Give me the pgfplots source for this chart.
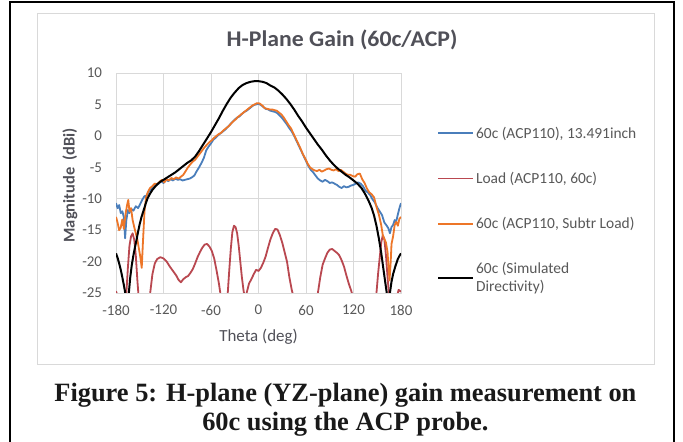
\documentclass[border=0pt]{standalone}
\usepackage{fontspec}
\setmainfont{Carlito}
\newfontfamily\capfont{Liberation Serif}
\usepackage{graphicx}
\usepackage{pgfplots}
\pgfplotsset{compat=1.18}
\definecolor{serblue}{RGB}{74,126,187}
\definecolor{serload}{RGB}{185,72,80}
\definecolor{serorange}{RGB}{237,118,40}
\definecolor{titlegray}{RGB}{80,80,88}
\definecolor{tickgray}{RGB}{89,89,89}
\definecolor{gridgray}{RGB}{217,217,217}

\pgfplotstableread{
x y
-180 -10.7
-178 -11.5
-176 -11.0
-174 -12.3
-172 -12.0
-170 -13.0
-168.5 -16.3
-167 -13.5
-165 -11.8
-163 -12.3
-161 -11.6
-158 -11.9
-155 -11.2
-152 -11.5
-150 -11.0
-147 -10.2
-144 -9.6
-141 -9.5
-138 -8.7
-135 -8.5
-132 -7.9
-129 -7.8
-126 -7.6
-123 -7.2
-120 -7.5
-117 -7.0
-114 -7.2
-111 -6.9
-108 -7.1
-105 -6.8
-102 -7.0
-99 -6.9
-96 -7.1
-93 -7.0
-90 -6.9
-87 -6.8
-84 -6.6
-81 -6.3
-78 -5.6
-75 -5.0
-72 -4.3
-69 -3.5
-66 -2.3
-63 -1.7
-60 -1.2
-57 -0.6
-54 -0.3
-51 0.1
-48 0.4
-45 0.7
-42 1.0
-39 1.4
-36 1.8
-33 2.2
-30 2.6
-27 2.9
-24 3.1
-21 3.5
-18 3.8
-15 4.0
-12 4.3
-9 4.6
-6 4.9
-3 5.0
0 5.1
3 4.9
6 4.6
9 4.3
12 4.2
15 4.0
18 3.9
21 3.8
24 3.6
27 3.2
30 2.8
33 2.3
36 1.8
39 1.2
42 0.7
45 0.0
48 -0.8
51 -1.6
54 -2.4
57 -3.2
60 -4.0
63 -4.8
66 -5.4
69 -5.8
72 -6.3
75 -6.8
78 -7.1
81 -7.3
84 -7.0
87 -7.2
90 -7.5
93 -7.4
96 -7.6
99 -7.8
102 -8.1
105 -8.3
108 -8.0
111 -8.2
114 -8.1
117 -7.9
120 -7.8
123 -7.6
126 -7.4
129 -7.6
132 -8.0
135 -8.7
138 -9.0
141 -9.4
144 -10.1
147 -10.6
150 -11.4
153 -12.0
156 -12.6
159 -13.8
162 -14.3
164 -14.7
166 -15.5
168 -14.5
170 -14.2
172 -13.4
174 -13.6
176 -12.5
178 -11.5
180 -10.7
}\tblue

\pgfplotstableread{
x y
-180 -24.7
-178 -25.5
-172 -28
-167 -25.2
-165 -21
-163 -17.5
-161 -16
-159 -15.5
-157 -16.5
-155 -19
-153 -23
-151.5 -25.5
-145 -28
-137 -25.2
-134 -22
-131 -20.3
-128 -19.6
-124 -19.3
-120 -19.5
-116 -20.0
-112 -20.8
-108 -21.5
-104 -22.2
-101 -22.9
-98 -23.3
-95 -22.8
-92 -22.5
-89 -22.3
-86 -21.8
-83 -21.2
-80 -20.3
-77 -19.3
-74 -18.5
-71 -17.8
-68 -17.3
-65 -17.2
-62 -17.6
-59 -18.3
-56 -19.5
-53 -21.4
-50 -23.5
-48 -25.2
-43 -28
-39 -25.3
-37 -21.5
-35 -18
-33 -15.3
-31 -14.3
-29 -14.5
-27 -15.5
-25 -17.5
-23 -20
-21 -22.5
-19 -24.5
-17 -26
-15 -25
-12 -23.5
-9 -22.8
-6 -22
-3 -21.3
0 -21.5
3 -21.0
6 -20.2
9 -19.2
12 -17.8
15 -16.5
18 -15.5
21 -14.8
24 -14.9
27 -15.8
30 -17
33 -18.5
36 -20
39 -22.5
42 -24.5
44 -25.5
50 -28
60 -28
72 -27
75 -25
78 -22.5
81 -20.5
84 -19.5
87 -18.6
90 -18.1
93 -18.0
96 -18.3
99 -18.6
102 -19.0
105 -19.8
108 -20.8
111 -22.2
114 -23.5
117 -24.6
119 -25.5
125 -28
129 -25.3
131 -28
146 -28
149 -25
151 -22
153 -19.5
155 -17
157 -15.8
159 -16.5
161 -19
163 -22.5
165 -25.5
170 -28
175 -25.5
177 -24.5
180 -24.8
}\tload

\pgfplotstableread{
x y
-180 -12.9
-178 -13.8
-176 -15.0
-174 -14.6
-172 -13.3
-170 -14.8
-168 -12.5
-166 -11.0
-164.5 -10.2
-163 -12.0
-161 -11.5
-159 -13.4
-157 -14.5
-155 -15.5
-153 -16.5
-151 -18.0
-149 -19.5
-147.5 -21.0
-146 -17.0
-144 -12.0
-142 -9.8
-140 -9.0
-137 -8.3
-134 -8.0
-131 -7.6
-128 -7.7
-125 -7.3
-122 -7.0
-119 -7.4
-116 -6.9
-113 -7.1
-110 -6.7
-107 -6.9
-104 -6.6
-101 -6.8
-98 -6.5
-95 -6.2
-92 -5.6
-89 -5.0
-86 -4.5
-83 -4.1
-80 -3.8
-77 -3.3
-74 -2.8
-71 -2.3
-68 -1.8
-65 -1.4
-62 -1.0
-59 -0.7
-56 -0.3
-53 0.0
-50 0.3
-47 0.5
-44 0.9
-41 1.2
-38 1.5
-35 1.9
-32 2.3
-29 2.6
-26 3.0
-23 3.3
-20 3.6
-17 3.9
-14 4.2
-11 4.5
-8 4.8
-5 5.0
-2 5.2
0 5.2
2 5.1
5 4.8
8 4.4
11 4.3
14 4.2
17 4.2
20 4.1
23 4.0
26 3.7
29 3.4
32 2.9
35 2.3
38 1.7
41 1.2
44 0.4
47 -0.4
50 -1.2
53 -2.0
56 -2.9
59 -3.6
62 -4.4
65 -5.0
68 -5.3
71 -5.5
74 -5.6
77 -5.4
80 -5.7
83 -5.5
86 -5.3
89 -5.2
92 -5.4
95 -5.5
98 -5.3
101 -5.6
104 -5.4
107 -5.7
110 -6.0
113 -6.2
116 -6.2
119 -6.4
122 -6.5
125 -6.1
128 -6.0
131 -6.9
134 -7.5
137 -8.4
140 -9.0
143 -9.3
146 -9.8
149 -11.3
152 -12.5
155 -14.2
157 -15.8
159 -16.4
161 -17.0
163 -18.5
164 -20.5
165.5 -23.0
167 -20.0
168 -17.2
170 -16.0
172 -14.2
174 -13.7
176 -14.3
178 -13.2
180 -12.9
}\torange

\pgfplotstableread{
x y
-180 -18.7
-178 -19.4
-176 -20.3
-174 -21.3
-172 -22.5
-170 -23.8
-168 -25.2
-166 -26.5
-164 -25.3
-162 -22.5
-160 -20.5
-158 -19.0
-156 -17.7
-154 -16.5
-152 -15.2
-150 -14.0
-148 -13.0
-145 -11.8
-142 -10.6
-140 -9.9
-137 -9.2
-134 -8.6
-130 -8.0
-127 -7.6
-124 -7.3
-120 -7.0
-115 -6.6
-110 -6.2
-105 -5.8
-100 -5.3
-95 -4.8
-90 -4.3
-85 -3.9
-80 -3.3
-75 -2.4
-70 -1.4
-65 -0.4
-60 0.6
-55 1.7
-50 2.8
-45 4.0
-40 5.1
-35 6.1
-30 6.9
-25 7.6
-20 8.1
-15 8.4
-10 8.6
-5 8.7
0 8.7
5 8.6
10 8.4
15 8.0
20 7.7
25 7.2
30 6.6
35 5.9
40 5.1
45 4.2
50 3.2
55 2.3
60 1.3
65 0.4
70 -0.5
75 -1.4
80 -2.2
85 -3.1
90 -3.9
95 -4.6
100 -5.2
105 -5.7
110 -6.2
115 -6.6
120 -7.1
125 -7.6
130 -8.3
134 -9.1
137 -9.8
140 -10.6
143 -11.5
146 -12.7
149 -14.3
152 -16.3
155 -18.6
158 -21.4
160 -23.2
162 -25.0
164 -26.5
166 -25.0
168 -23.2
170 -22.0
173 -20.7
176 -19.6
178 -19.1
180 -18.7
}\tsim

\begin{document}
\begin{tikzpicture}[x=1bp,y=1bp]
\useasboundingbox (0,0) rectangle (683,442);
\draw[black, line width=1.5bp] (10,-2) -- (10,440) -- (674,440) -- (674,-2);
\draw[gridgray, line width=0.8bp, fill=white] (37,78) rectangle (654.5,428.7);
\node[font=\fontsize{22.5}{26}\selectfont\bfseries, text=titlegray, anchor=base] at (342,395.5) {\scalebox{1.06}[1]{H-Plane Gain (60c/ACP)}};
\begin{axis}[
  at={(116bp,149bp)}, anchor=south west,
  scale only axis, width=285bp, height=220bp,
  xmin=-180, xmax=180, ymin=-25, ymax=10,
  xtick={-180,-120,-60,0,60,120,180},
  ytick={-25,-20,-15,-10,-5,0,5,10},
  grid=major,
  grid style={gridgray, line width=0.7bp},
  axis line style={gridgray, line width=0.7bp},
  major tick style={draw=none},
  /pgf/number format/assume math mode=true,
  ticklabel style={font=\fontsize{15}{17}\selectfont, text=tickgray},
  xticklabel style={yshift=-8.5bp},
  yticklabel style={xshift=-10.5bp},
  xlabel={Theta (deg)},
  xlabel style={at={(axis description cs:0.5,-0.2)}, anchor=center, font=\fontsize{17}{19}\selectfont, text=titlegray},
  ylabel={Magnitude\ \ (dBi)},
  ylabel style={at={(axis description cs:-0.1614,0.49)}, anchor=center, font=\fontsize{16.5}{19}\selectfont\bfseries, text=titlegray},
  legend style={draw=none, fill=none, inner sep=0pt, at={(axis description cs:1.126,0.765)}, anchor=north west, row sep=28.5bp, font=\fontsize{15.5}{17.5}\selectfont, text=tickgray, cells={align=left}},
  legend cell align=left,
  legend image code/.code={\draw[#1] (0bp,0bp) -- (35bp,0bp);},
  clip=true,
  line join=round,
]
\addplot[serblue, line width=1.8bp] table[x=x,y=y] {\tblue};
\addlegendentry{60c (ACP110), 13.491inch}
\addplot[serload, line width=1.8bp] table[x=x,y=y] {\tload};
\addlegendentry{Load (ACP110, 60c)}
\addplot[serorange, line width=1.8bp] table[x=x,y=y] {\torange};
\addlegendentry{60c (ACP110, Subtr Load)}
\addplot[black, line width=2bp] table[x=x,y=y] {\tsim};
\addlegendentry{60c (Simulated\\Directivity)}
\end{axis}
\node[font=\capfont\bfseries\fontsize{26.5}{29}\selectfont, text=black!90, anchor=base] at (345.4,40.3) {Figure 5: H-plane (YZ-plane) gain measurement on};
\node[font=\capfont\bfseries\fontsize{26.5}{29}\selectfont, text=black!90, anchor=base] at (345.4,11) {60c using the ACP probe.};
\end{tikzpicture}
\end{document}
